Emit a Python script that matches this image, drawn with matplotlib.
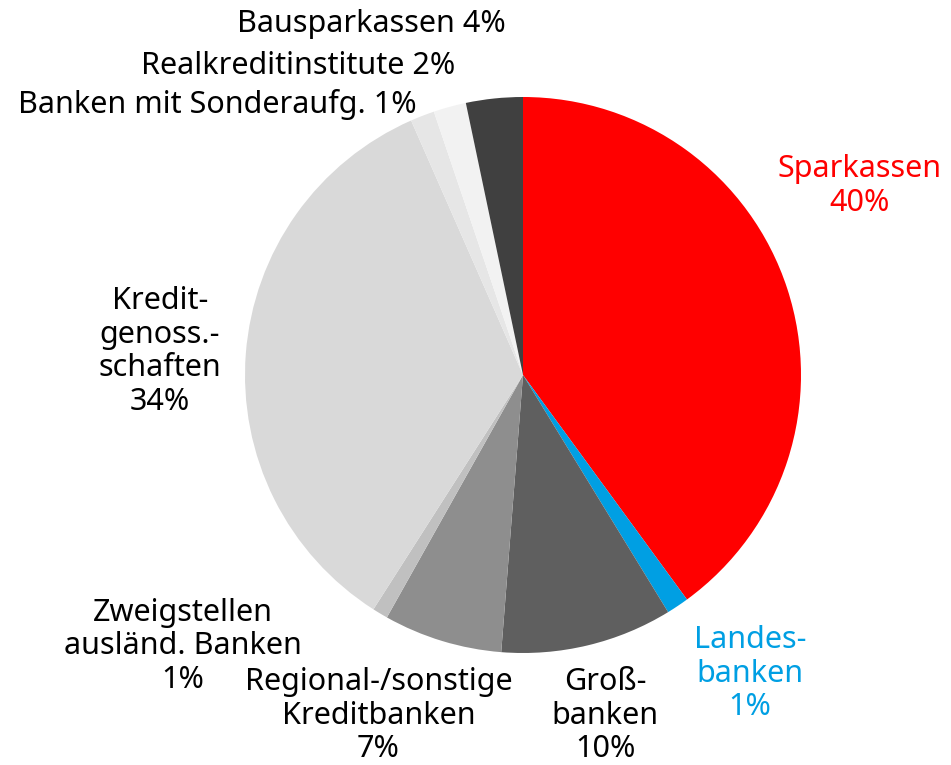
import matplotlib
matplotlib.use("Agg")
import matplotlib.pyplot as plt

# shares in percent, clockwise from 12 o'clock
categories = ["Sparkassen", "Landesbanken", "Großbanken", "Regional-/sonstige Kreditbanken",
              "Zweigstellen ausländ. Banken", "Kreditgenossenschaften",
              "Banken mit Sonderaufg.", "Realkreditinstitute", "Bausparkassen"]
values = [40.0, 1.3, 10.0, 6.9, 0.9, 34.4, 1.4, 1.9, 3.3]
labels = ["Sparkassen\n40%", "Landes-\nbanken\n1%", "Groß-\nbanken\n10%",
          "Regional-/sonstige\nKreditbanken\n7%", "Zweigstellen\nausländ. Banken\n1%",
          "Kredit-\ngenoss.-\nschaften\n34%", "Banken mit Sonderaufg. 1%",
          "Realkreditinstitute 2%", "Bausparkassen 4%"]
colors = ["#ff0000", "#009fe3", "#5f5f5f", "#8e8e8e", "#c0c0c0",
          "#d9d9d9", "#e6e6e6", "#f2f2f2", "#404040"]
label_colors = ["#ff0000", "#009fe3", "black", "black", "black", "black", "black", "black", "black"]

# label placement (relative to pie radius) and alignment
label_pos = [(1.21, 0.68), (0.817, -1.075), (0.295, -1.225), (-0.52, -1.225),
             (-1.223, -0.975), (-1.306, 0.085), (-0.381, 0.972), (-0.245, 1.112), (-0.061, 1.262)]
label_ha = ["center"] * 6 + ["right"] * 3

plt.rcParams['font.family'] = ['Noto Sans', 'DejaVu Sans']

W, H = 951, 765
cx, cy, r = 523, 375, 278
fig = plt.figure(figsize=(W / 100, H / 100), dpi=100)
ax = fig.add_axes([(cx - r) / W, (H - cy - r) / H, 2 * r / W, 2 * r / H])

ax.pie(values, colors=colors, startangle=90, counterclock=False, radius=1,
       wedgeprops=dict(linewidth=0))
ax.set_xlim(-1, 1)
ax.set_ylim(-1, 1)
ax.set_aspect("equal")
ax.axis("off")

for lab, (x, y), ha, c in zip(labels, label_pos, label_ha, label_colors):
    ax.text(x, y, lab, ha=ha, va="center", color=c, fontsize=22,
            linespacing=1.15, clip_on=False)

fig.savefig("out.png", dpi=100)
